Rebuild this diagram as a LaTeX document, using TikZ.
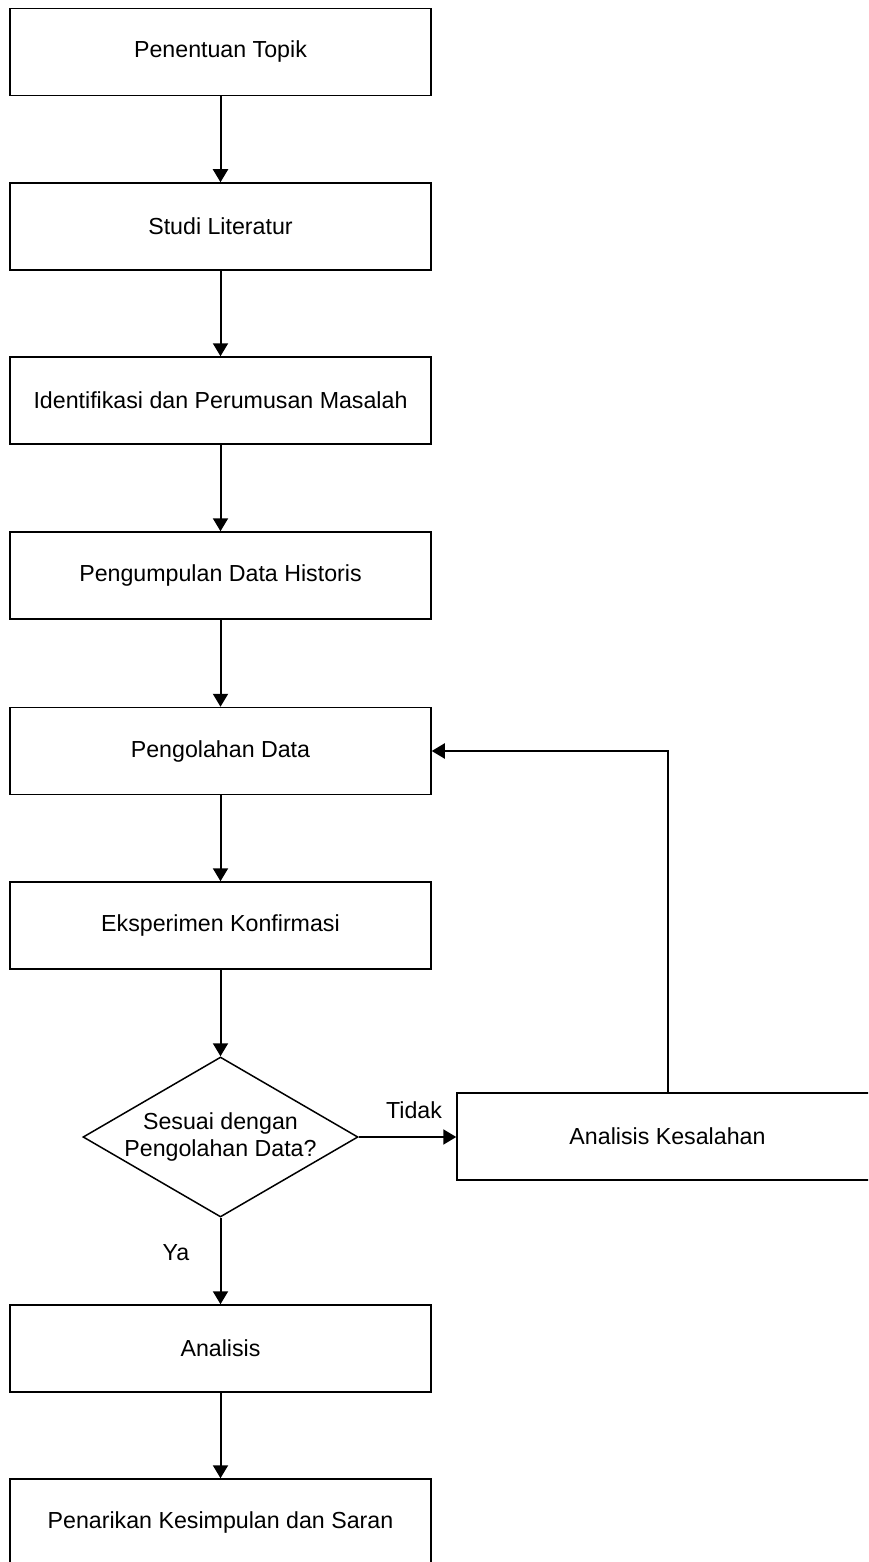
\documentclass[tikz,border=0pt]{standalone}
\usepackage{fontspec}
\setmainfont{Liberation Sans}
\usetikzlibrary{arrows.meta,shapes.geometric}
\begin{document}
\begin{tikzpicture}[x=0.5pt,y=-0.5pt,
  every node/.style={font=\fontsize{11.6}{13.5}\selectfont},
  stepbox/.style={draw,line width=0.75pt,minimum width=210.5pt,minimum height=43.5pt,inner sep=0pt},
  decbox/.style={draw,diamond,line width=0.75pt,minimum width=137.5pt,minimum height=80pt,inner sep=0pt},
  flow/.style={line width=1pt,-{Triangle[length=6.5pt,width=7.5pt]}},
  lbl/.style={inner sep=0pt}]
\useasboundingbox (0,0) rectangle (868,1562);
\clip (0,0) rectangle (868,1562);
\node[stepbox] (b1) at (220.5,52) {Penentuan Topik};
\node[stepbox] (b2) at (220.5,226.5) {Studi Literatur};
\node[stepbox] (b3) at (220.5,400.5) {Identifikasi dan Perumusan Masalah};
\node[stepbox] (b4) at (220.5,575.5) {Pengumpulan Data Historis};
\node[stepbox] (b5) at (220.5,751) {Pengolahan Data};
\node[stepbox] (b6) at (220.5,925.5) {Eksperimen Konfirmasi};
\node[decbox] (dec) at (220.5,1137) {};
\node[lbl,align=center] (dectext) at (220.5,1137) {Sesuai dengan\\Pengolahan Data?};
\node[stepbox] (err) at (667.5,1136.5) {Analisis Kesalahan};
\node[stepbox] (b7) at (220.5,1348.5) {Analisis};
\node[stepbox] (b8) at (220.5,1522.5) {Penarikan Kesimpulan dan Saran};
\draw[flow] (b1.south) -- (b2.north);
\draw[flow] (b2.south) -- (b3.north);
\draw[flow] (b3.south) -- (b4.north);
\draw[flow] (b4.south) -- (b5.north);
\draw[flow] (b5.south) -- (b6.north);
\draw[flow] (b6.south) -- (dec.north);
\draw[flow] (dec.east) -- (err.west |- dec.east);
\draw[flow] (dec.south) -- (b7.north);
\draw[flow] (b7.south) -- (b8.north);
\draw[flow] (err.north) |- (b5.east);
\node[lbl] (tidak) at (414,1110) {Tidak};
\node[lbl] (ya) at (176,1253) {Ya};
\end{tikzpicture}
\end{document}
